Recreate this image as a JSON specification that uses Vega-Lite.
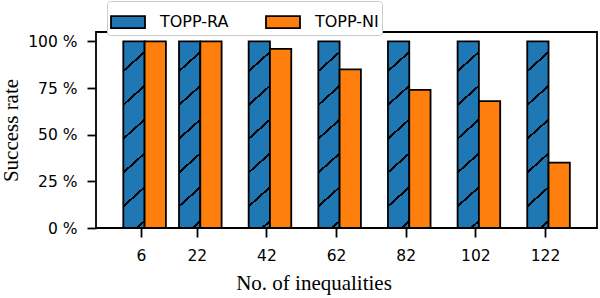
{
  "$schema": "https://vega.github.io/schema/vega-lite/v6.json",
  "width": 501,
  "height": 196,
  "autosize": {"type": "none"},
  "padding": {"left": 96, "top": 32, "right": 3, "bottom": 70},
  "background": "white",
  "config": {
    "view": {"stroke": "black", "strokeWidth": 1.8},
    "axis": {
      "grid": false,
      "domain": false,
      "tickColor": "black",
      "tickWidth": 1.8,
      "tickSize": 9,
      "labelFont": "DejaVu Sans",
      "labelFontSize": 15.5,
      "labelColor": "black",
      "labelFlush": false,
      "titleFont": "Liberation Serif",
      "titleFontSize": 21,
      "titleFontWeight": "normal",
      "titleColor": "black"
    }
  },
  "data": {
    "values": [
      {"n": 6, "method": "TOPP-RA", "rate": 100},
      {"n": 22, "method": "TOPP-RA", "rate": 100},
      {"n": 42, "method": "TOPP-RA", "rate": 100},
      {"n": 62, "method": "TOPP-RA", "rate": 100},
      {"n": 82, "method": "TOPP-RA", "rate": 100},
      {"n": 102, "method": "TOPP-RA", "rate": 100},
      {"n": 122, "method": "TOPP-RA", "rate": 100},
      {"n": 6, "method": "TOPP-NI", "rate": 100},
      {"n": 22, "method": "TOPP-NI", "rate": 100},
      {"n": 42, "method": "TOPP-NI", "rate": 96},
      {"n": 62, "method": "TOPP-NI", "rate": 85},
      {"n": 82, "method": "TOPP-NI", "rate": 74},
      {"n": 102, "method": "TOPP-NI", "rate": 68},
      {"n": 122, "method": "TOPP-NI", "rate": 35}
    ]
  },
  "encoding": {
    "x": {
      "field": "n",
      "type": "quantitative",
      "scale": {"domain": [-5.5, 135.5], "nice": false, "zero": false},
      "axis": {
        "values": [6, 22, 42, 62, 82, 102, 122],
        "title": "No. of inequalities",
        "labelPadding": 11,
        "titleX": 217.5,
        "titleY": 61,
        "titleBaseline": "alphabetic",
        "titleAnchor": null,
        "titleAlign": "center"
      }
    },
    "y": {
      "field": "rate",
      "type": "quantitative",
      "scale": {"domain": [0, 105], "nice": false},
      "axis": {
        "values": [0, 25, 50, 75, 100],
        "labelExpr": "datum.value + ' %'",
        "title": "Success rate",
        "labelPadding": 10,
        "titleX": -79,
        "titleBaseline": "alphabetic"
      }
    }
  },
  "layer": [
    {
      "transform": [{"filter": "datum.method === 'TOPP-RA'"}],
      "mark": {
        "type": "bar",
        "orient": "vertical",
        "width": 21.3,
        "xOffset": -7.1,
        "stroke": "black",
        "strokeWidth": 1.8,
        "fill": {
          "gradient": "linear",
          "x1": 0, "y1": 0, "x2": 0.1121, "y2": 1.0913,
          "stops": [
            {"offset": 0, "color": "#1f77b4"},
            {"offset": 0.1382, "color": "#1f77b4"},
            {"offset": 0.1382, "color": "black"},
            {"offset": 0.1513, "color": "black"},
            {"offset": 0.1513, "color": "#1f77b4"},
            {"offset": 0.3024, "color": "#1f77b4"},
            {"offset": 0.3024, "color": "black"},
            {"offset": 0.3155, "color": "black"},
            {"offset": 0.3155, "color": "#1f77b4"},
            {"offset": 0.4666, "color": "#1f77b4"},
            {"offset": 0.4666, "color": "black"},
            {"offset": 0.4797, "color": "black"},
            {"offset": 0.4797, "color": "#1f77b4"},
            {"offset": 0.6308, "color": "#1f77b4"},
            {"offset": 0.6308, "color": "black"},
            {"offset": 0.6439, "color": "black"},
            {"offset": 0.6439, "color": "#1f77b4"},
            {"offset": 0.7950, "color": "#1f77b4"},
            {"offset": 0.7950, "color": "black"},
            {"offset": 0.8082, "color": "black"},
            {"offset": 0.8082, "color": "#1f77b4"},
            {"offset": 0.9592, "color": "#1f77b4"},
            {"offset": 0.9592, "color": "black"},
            {"offset": 0.9724, "color": "black"},
            {"offset": 0.9724, "color": "#1f77b4"},
            {"offset": 1, "color": "#1f77b4"}
          ]
        }
      }
    },
    {
      "transform": [{"filter": "datum.method === 'TOPP-NI'"}],
      "mark": {
        "type": "bar",
        "orient": "vertical",
        "width": 21.3,
        "xOffset": 14.2,
        "stroke": "black",
        "strokeWidth": 1.8,
        "opacity": 1
      },
      "encoding": {
        "stroke": {"value": "black"},
        "strokeWidth": {"value": 1.8},
        "color": {
          "field": "method",
          "type": "nominal",
          "scale": {"domain": ["TOPP-RA", "TOPP-NI"], "range": ["#1f77b4", "#ff7f0e"]},
          "legend": {
            "orient": "none",
            "legendX": 11,
            "legendY": -31,
            "direction": "horizontal",
            "title": null,
            "symbolType": "M-1,-0.353H1V0.353H-1Z",
            "symbolSize": 1156,
            "symbolStrokeColor": "black",
            "symbolStrokeWidth": 1.8,
            "symbolOpacity": 1,
            "labelFont": "DejaVu Sans",
            "labelFontSize": 16,
            "labelColor": "black",
            "labelOffset": 14,
            "columnPadding": 33,
            "padding": 3,
            "strokeColor": "#cccccc",
            "fillColor": "white",
            "cornerRadius": 3
          }
        }
      }
    }
  ]
}
